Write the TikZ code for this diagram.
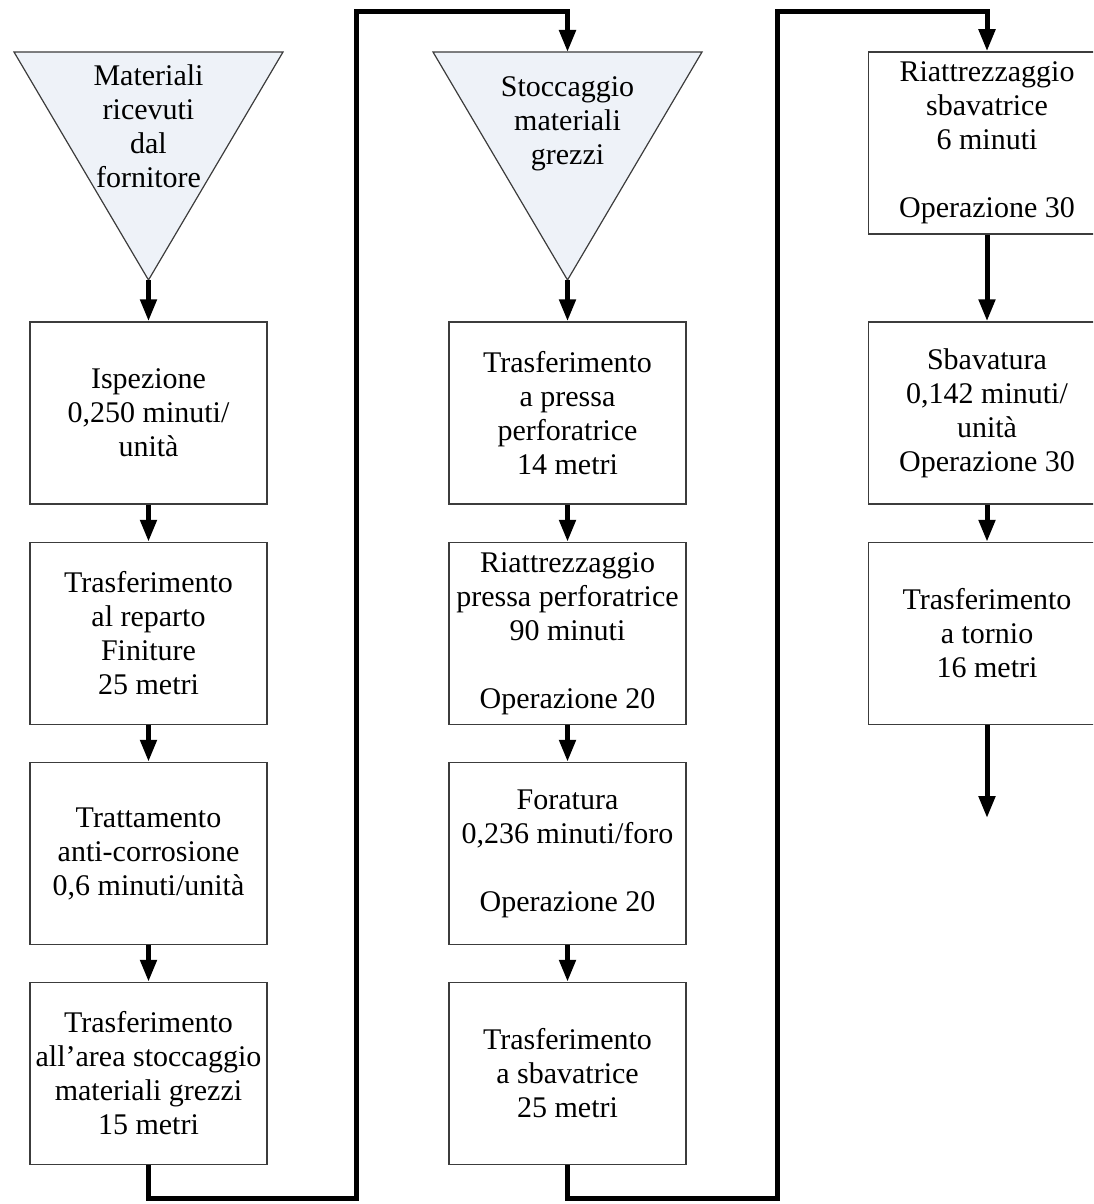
\documentclass[tikz,border=0pt]{standalone}
\usepackage{fontspec}
\setmainfont{Liberation Serif}
\usetikzlibrary{arrows.meta}
\definecolor{trifill}{RGB}{238,242,248}
\definecolor{boxline}{RGB}{60,60,60}
\tikzset{
  procbox/.style={draw=boxline, line width=1.5pt, fill=white, minimum width=237pt, minimum height=182pt, align=center, inner sep=0pt, font=\fontsize{30}{34}\selectfont},
  tritext/.style={align=center, inner sep=0pt, font=\fontsize{30}{34}\selectfont},
  conn/.style={line width=5pt, -{Triangle[length=22pt,width=16pt]}, line join=miter},
  plain/.style={line width=5pt, line join=miter},
}
\begin{document}
\begin{tikzpicture}[x=1pt,y=-1pt]
\useasboundingbox (0,0) rectangle (1093,1204);
\clip (0,0) rectangle (1093,1204);
% triangles
\draw[draw=boxline, line width=1.2pt, fill=trifill] (14,52) -- (283,52) -- (148.5,280) -- cycle;
\coordinate (t1apex) at (148.5,280);
\node[tritext] (t1txt) at (148.5,126) {Materiali\\ricevuti\\dal\\fornitore};
\draw[draw=boxline, line width=1.2pt, fill=trifill] (433,52) -- (702,52) -- (567.5,280) -- cycle;
\coordinate (t2top) at (567.5,52);
\coordinate (t2apex) at (567.5,280);
\node[tritext] (t2txt) at (567.5,124) {Stoccaggio\\materiali\\grezzi};
% column 1
\node[procbox] (a1) at (148.5,413) {Ispezione\\0,250 minuti/\\unità};
\node[procbox] (a2) at (148.5,633.5) {Trasferimento\\al reparto\\Finiture\\25 metri};
\node[procbox] (a3) at (148.5,853.5) {Trattamento\\anti-corrosione\\0,6 minuti/unità};
\node[procbox] (a4) at (148.5,1073.5) {Trasferimento\\all’area stoccaggio\\materiali grezzi\\15 metri};
% column 2
\node[procbox] (b1) at (567.5,413) {Trasferimento\\a pressa\\perforatrice\\14 metri};
\node[procbox] (b2) at (567.5,633.5) {Riattrezzaggio\\pressa perforatrice\\90 minuti\\[34pt]Operazione 20};
\node[procbox] (b3) at (567.5,853.5) {Foratura\\0,236 minuti/foro\\[34pt]Operazione 20};
\node[procbox] (b4) at (567.5,1073.5) {Trasferimento\\a sbavatrice\\25 metri};
% column 3
\node[procbox] (c1) at (987,143) {Riattrezzaggio\\sbavatrice\\6 minuti\\[34pt]Operazione 30};
\node[procbox] (c2) at (987,413) {Sbavatura\\0,142 minuti/\\unità\\Operazione 30};
\node[procbox] (c3) at (987,633.5) {Trasferimento\\a tornio\\16 metri};
\coordinate (cend) at (987,818);
% connectors
\draw[conn] (t1apex) -- (a1.north);
\draw[conn] (a1.south) -- (a2.north);
\draw[conn] (a2.south) -- (a3.north);
\draw[conn] (a3.south) -- (a4.north);
\coordinate (j1) at (356,1198);
\coordinate (j2) at (356,12);
\draw[conn] (a4.south) |- (j1) -- (j2) -| (t2top);
\draw[conn] (t2apex) -- (b1.north);
\draw[conn] (b1.south) -- (b2.north);
\draw[conn] (b2.south) -- (b3.north);
\draw[conn] (b3.south) -- (b4.north);
\coordinate (k1) at (777,1198);
\coordinate (k2) at (777,12);
\draw[conn] (b4.south) |- (k1) -- (k2) -| (c1.north);
\draw[conn] (c1.south) -- (c2.north);
\draw[conn] (c2.south) -- (c3.north);
\draw[conn] (c3.south) -- (cend);
\end{tikzpicture}
\end{document}
